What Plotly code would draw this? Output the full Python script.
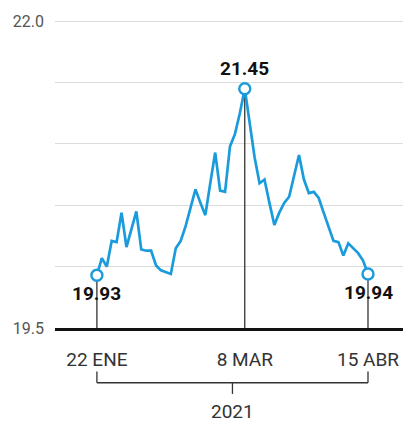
import plotly.graph_objects as go

dates = [
    "2021-01-22", "2021-01-25", "2021-01-26", "2021-01-27", "2021-01-28", "2021-01-29",
    "2021-02-02", "2021-02-03", "2021-02-04", "2021-02-05",
    "2021-02-08", "2021-02-09", "2021-02-10", "2021-02-11", "2021-02-12",
    "2021-02-15", "2021-02-16", "2021-02-17", "2021-02-18", "2021-02-19",
    "2021-02-22", "2021-02-23", "2021-02-24", "2021-02-25", "2021-02-26",
    "2021-03-01", "2021-03-02", "2021-03-03", "2021-03-04", "2021-03-05",
    "2021-03-08", "2021-03-09", "2021-03-10", "2021-03-11", "2021-03-12",
    "2021-03-16", "2021-03-17", "2021-03-18", "2021-03-19",
    "2021-03-22", "2021-03-23", "2021-03-24", "2021-03-25", "2021-03-26",
    "2021-03-29", "2021-03-30", "2021-03-31",
    "2021-04-05", "2021-04-06", "2021-04-07", "2021-04-08", "2021-04-09",
    "2021-04-12", "2021-04-13", "2021-04-14", "2021-04-15",
]
values = [
    19.93, 20.07, 20.00, 20.21, 20.20, 20.44,
    20.16, 20.30, 20.45, 20.14,
    20.13, 20.13, 20.01, 19.97, 19.955,
    19.94, 20.15, 20.21, 20.33, 20.48,
    20.63, 20.52, 20.42, 20.68, 20.93,
    20.62, 20.61, 20.98, 21.08, 21.25,
    21.45, 21.17, 20.89, 20.68, 20.71,
    20.52, 20.34, 20.44, 20.52,
    20.57, 20.74, 20.91, 20.71, 20.60,
    20.61, 20.56, 20.44,
    20.33, 20.21, 20.20, 20.09, 20.19,
    20.15, 20.11, 20.05, 19.94,
]

highlight_dates = ["2021-01-22", "2021-03-08", "2021-04-15"]
highlight_labels = ["19.93", "21.45", "19.94"]
tick_dates = ["2021-01-22", "2021-03-08", "2021-04-15"]
tick_labels = ["22 ENE", "8 MAR", "15 ABR"]
y_ticks = [19.5, 20.0, 20.5, 21.0, 21.5, 22.0]
y_tick_labels = ["19.5", "", "", "", "", "22.0"]
year_label = "2021"

BLUE = "#1A9BDB"
FONT = "Roboto"

hl_values = [values[dates.index(d)] for d in highlight_dates]

fig = go.Figure()
fig.add_trace(go.Scatter(
    x=dates, y=values, mode="lines",
    line=dict(color=BLUE, width=2.7),
    hoverinfo="skip", showlegend=False,
))
fig.add_trace(go.Scatter(
    x=highlight_dates, y=hl_values, mode="markers",
    marker=dict(size=11, color="white", line=dict(color=BLUE, width=2.4)),
    hoverinfo="skip", showlegend=False,
))

shapes = []
# vertical drop lines from highlighted points to baseline
for d, v in zip(highlight_dates, hl_values):
    shapes.append(dict(type="line", xref="x", yref="y", x0=d, x1=d,
                       y0=y_ticks[0], y1=v, layer="between",
                       line=dict(color="#222222", width=1.2)))

# bracket under axis
i0 = dates.index(tick_dates[0])
i1 = dates.index(tick_dates[-1])
mid = (i0 + i1) / 2
shapes.append(dict(type="line", xref="x", yref="paper", x0=i0, x1=i1,
                   y0=-0.176, y1=-0.176, line=dict(color="#333333", width=1.3)))
for xi in (i0, i1):
    shapes.append(dict(type="line", xref="x", yref="paper", x0=xi, x1=xi,
                       y0=-0.176, y1=-0.140, line=dict(color="#333333", width=1.3)))
shapes.append(dict(type="line", xref="x", yref="paper", x0=mid, x1=mid,
                   y0=-0.176, y1=-0.212, line=dict(color="#333333", width=1.3)))

annotations = []
for d, v, t in zip(highlight_dates, hl_values, highlight_labels):
    above = v == max(hl_values)
    annotations.append(dict(
        x=d, y=v, xref="x", yref="y", text="<b>%s</b>" % t, showarrow=False,
        yshift=20 if above else -18, yanchor="middle", xanchor="center",
        font=dict(family=FONT, size=19, color="#111111"),
    ))
annotations.append(dict(
    x=mid, y=-0.268, xref="x", yref="paper", text=year_label, showarrow=False,
    yanchor="middle", xanchor="center",
    font=dict(family=FONT, size=19, color="#333333"),
))

n = len(dates)
fig.update_layout(
    width=403, height=422,
    margin=dict(l=55, r=0, t=17, b=94, autoexpand=False),
    paper_bgcolor="white", plot_bgcolor="white",
    shapes=shapes, annotations=annotations,
    xaxis=dict(
        type="category", range=[-8.5, n - 1 + 7.1], automargin=False,
        tickmode="array", tickvals=tick_dates, ticktext=tick_labels,
        showgrid=False, zeroline=False,
        showline=True, linecolor="#111111", linewidth=2.5,
        ticks="", ticklabelstandoff=12,
        tickfont=dict(family=FONT, size=19, color="#333333"),
    ),
    yaxis=dict(
        range=[y_ticks[0], y_ticks[-1] + 0.035], automargin=False,
        tickmode="array", tickvals=y_ticks, ticktext=y_tick_labels,
        showgrid=True, gridcolor="#dcdcdc", gridwidth=1,
        zeroline=False, showline=False,
        ticks="", ticklabelstandoff=10,
        tickfont=dict(family=FONT, size=16, color="#555555"),
    ),
)

fig.write_html(
    "out.html",
    config={"displayModeBar": False},
    post_script="document.body.style.margin='0';document.body.style.padding='0';document.documentElement.style.overflow='hidden';",
)
